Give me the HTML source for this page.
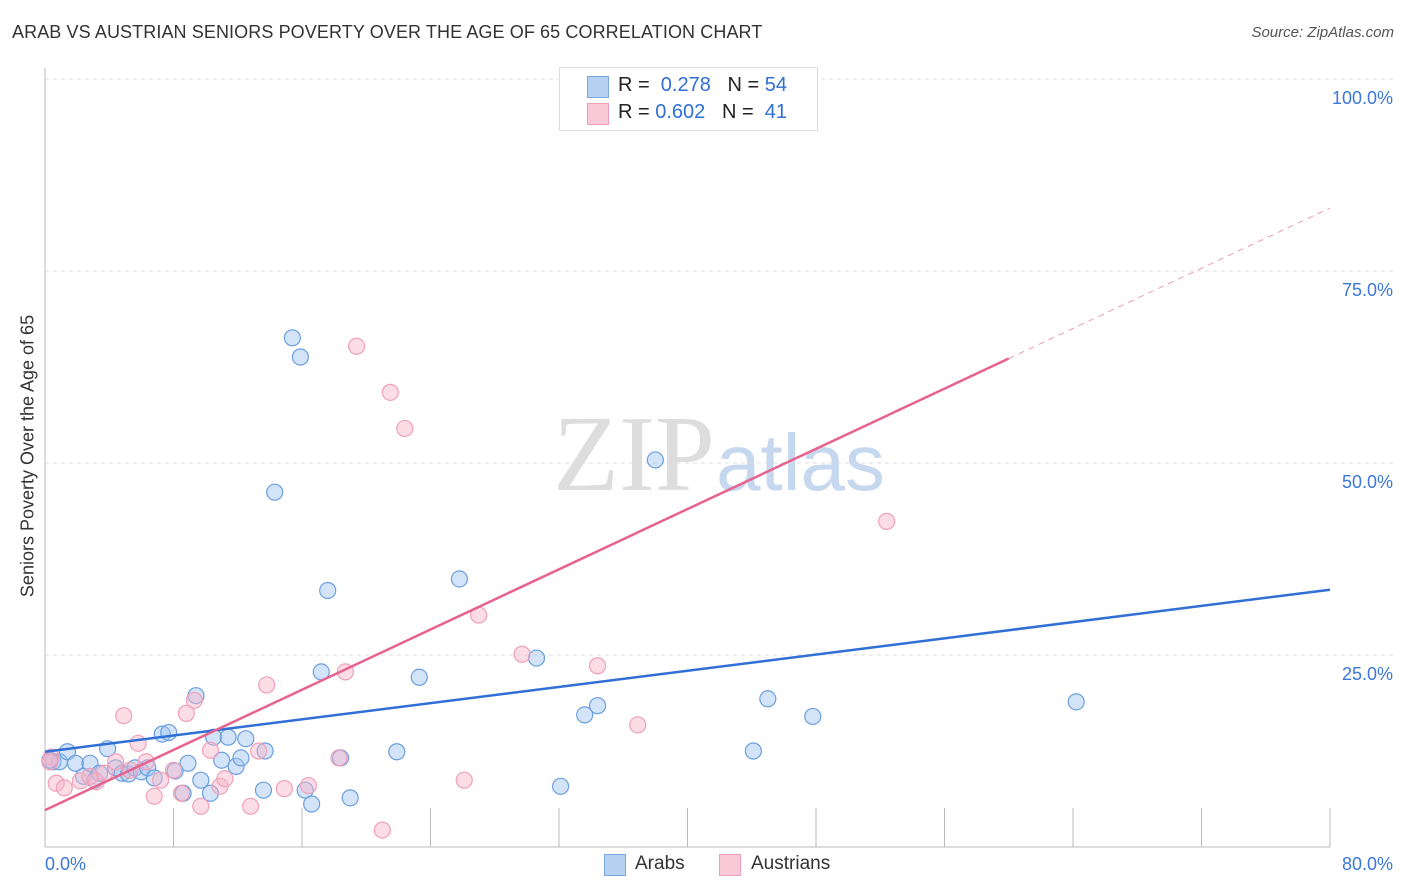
<!DOCTYPE html>
<html><head><meta charset="utf-8">
<style>
body{margin:0;background:#fff;font-family:"Liberation Sans",sans-serif;}
#wrap{position:relative;width:1406px;height:892px;overflow:hidden;}
.t{position:absolute;white-space:nowrap;}
</style></head>
<body>
<div id="wrap">
<div class="t" style="left:12px;top:22px;font-size:18px;color:#333;letter-spacing:0.1px">ARAB VS AUSTRIAN SENIORS POVERTY OVER THE AGE OF 65 CORRELATION CHART</div>
<div class="t" style="right:12px;top:24px;font-size:15px;color:#555;font-style:italic">Source: ZipAtlas.com</div>
<svg id="svg" width="1406" height="892" style="position:absolute;left:0;top:0">
<text x="553" y="490" font-family="Liberation Serif,serif" font-size="108" fill="#ddd">ZIP</text>
<text x="716" y="490" font-family="Liberation Sans,sans-serif" font-size="80" fill="#c6d8ef">atlas</text>
</svg>
<div style="position:absolute;left:559px;top:67px;width:257px;height:62px;border:1px solid #ddd;background:#fff;font-size:20px">
<div style="position:absolute;left:27px;top:8px;width:20px;height:20px;background:#b7d1f3;border:1px solid #7aa6e2"></div>
<div class="t" style="left:58px;top:6px;color:#222">R = <span style="color:#2f6fd6">&nbsp;0.278</span>&nbsp;&nbsp;&nbsp;N = <span style="color:#2f6fd6">54</span></div>
<div style="position:absolute;left:27px;top:35px;width:20px;height:20px;background:#f9c9d7;border:1px solid #ef9fb7"></div>
<div class="t" style="left:58px;top:33px;color:#222">R = <span style="color:#2f6fd6">0.602</span>&nbsp;&nbsp;&nbsp;N = <span style="color:#2f6fd6">&nbsp;41</span></div>
</div>
<div class="t" style="left:28px;top:456px;font-size:18px;color:#333;transform:translate(-50%,-50%) rotate(-90deg)">Seniors Poverty Over the Age of 65</div>
<div>
<div style="position:absolute;left:604px;top:854px;width:20px;height:20px;background:#b7d1f3;border:1px solid #7aa6e2"></div>
<div class="t" style="left:635px;top:853px;font-size:19px;color:#333">Arabs</div>
<div style="position:absolute;left:719px;top:854px;width:20px;height:20px;background:#f9c9d7;border:1px solid #ef9fb7"></div>
<div class="t" style="left:751px;top:853px;font-size:19px;color:#333">Austrians</div>
</div>
</div>
<script>
const arabX=[0.5,0.9,1.4,1.9,2.4,2.8,3.1,3.9,4.4,4.8,5.2,5.6,6.0,6.4,6.8,7.3,7.7,8.1,8.6,8.9,9.4,9.7,10.3,10.5,11.0,11.4,11.9,12.2,12.5,13.6,13.7,14.3,15.4,15.9,16.2,16.6,17.2,17.6,18.4,19.0,21.9,23.3,25.8,30.6,32.1,33.6,34.4,38.0,44.1,45.0,47.8,64.2,0.3,3.4];
const arabY=[11.1,11.1,12.4,10.9,9.2,10.9,8.7,12.8,10.3,9.6,9.5,10.3,9.8,10.3,9.0,14.7,14.9,9.9,7.0,10.9,19.7,8.7,7.0,14.3,11.3,14.3,10.5,11.6,14.1,7.4,12.5,46.2,66.3,63.8,7.4,5.6,22.8,33.4,11.6,6.4,12.4,22.1,34.9,24.6,7.9,17.2,18.4,50.4,12.5,19.3,17.0,18.9,11.3,9.6];
const austX=[0.4,0.7,1.2,2.2,3.2,3.7,4.4,4.9,5.8,6.3,6.8,7.2,8.0,8.5,8.8,9.3,9.7,10.3,10.9,11.2,12.8,13.3,13.8,14.9,16.4,18.3,18.7,19.4,21.0,21.5,22.4,26.1,27.0,29.7,34.4,36.9,41.5,52.4,0.3,2.8,5.3];
const austY=[11.7,8.3,7.7,8.6,8.5,9.6,11.1,17.1,13.5,11.1,6.6,8.7,10.0,7.0,17.4,19.1,5.3,12.6,7.9,8.9,5.3,12.5,21.1,7.6,8.0,11.6,22.8,65.2,2.2,59.2,54.5,8.7,30.2,25.1,23.6,15.9,100,42.4,11.1,9.2,10.0];
const arabLine=[12.4,33.5];
const austLine=[4.8,83.2];
const yTicks=[25,50,75,100];
const xTickLabels=["0.0%","80.0%"];
const X=v=>45+v*(1330-45)/80;
const Y=v=>847-v*(847-79)/100;
const svg=document.getElementById('svg');
const NS='http://www.w3.org/2000/svg';
function mk(tag,attrs){const e=document.createElementNS(NS,tag);for(const k in attrs)e.setAttribute(k,attrs[k]);svg.appendChild(e);return e;}
yTicks.forEach(t=>{
 const l=mk('line',{x1:45,x2:1395,y1:Y(t),y2:Y(t),stroke:'#ddd','stroke-dasharray':'4,4'});
 
 
 const tx=mk('text',{x:1393,y:Y(t)+25,'text-anchor':'end','font-size':18,fill:'#3b78d8','font-family':'Liberation Sans,sans-serif'});
 tx.textContent=t.toFixed(1)+'%';
 
 
});
let ax=mk('line',{x1:45,x2:45,y1:68,y2:847,stroke:'#bbb'});


ax=mk('line',{x1:45,x2:1330,y1:847,y2:847,stroke:'#bbb'});


for(let i=0;i<=10;i++){const tk=mk('line',{x1:X(i*8),x2:X(i*8),y1:808,y2:847,stroke:'#bbb'});
 
 }
[[0,'start',45],[80,'end',1393]].forEach((d,i)=>{const tx=mk('text',{x:d[2],y:870,'text-anchor':d[1],'font-size':18,fill:'#3b78d8','font-family':'Liberation Sans,sans-serif'});
 tx.textContent=xTickLabels[i];
 
 });
arabX.forEach((x,i)=>{const c=mk('circle',{cx:X(x),cy:Y(arabY[i]),r:8,fill:'rgba(160,196,240,0.45)',stroke:'#6a9fe0','stroke-width':1.2});
 
 });
austX.forEach((x,i)=>{const c=mk('circle',{cx:X(x),cy:Y(austY[i]),r:8,fill:'rgba(248,180,200,0.45)',stroke:'#f0a0b8','stroke-width':1.2});
 
 });
let ln=mk('line',{x1:X(0),y1:Y(arabLine[0]),x2:X(80),y2:Y(arabLine[1]),stroke:'#2f6fd6','stroke-width':2.5});


const pAt=x=>austLine[0]+(austLine[1]-austLine[0])*x/80;
ln=mk('line',{x1:X(0),y1:Y(pAt(0)),x2:X(60),y2:Y(pAt(60)),stroke:'#e8628e','stroke-width':2.5});


ln=mk('line',{x1:X(60),y1:Y(pAt(60)),x2:X(80),y2:Y(pAt(80)),stroke:'#e8a0b8','stroke-width':1,'stroke-dasharray':'6,5'});


</script>
</body></html>
